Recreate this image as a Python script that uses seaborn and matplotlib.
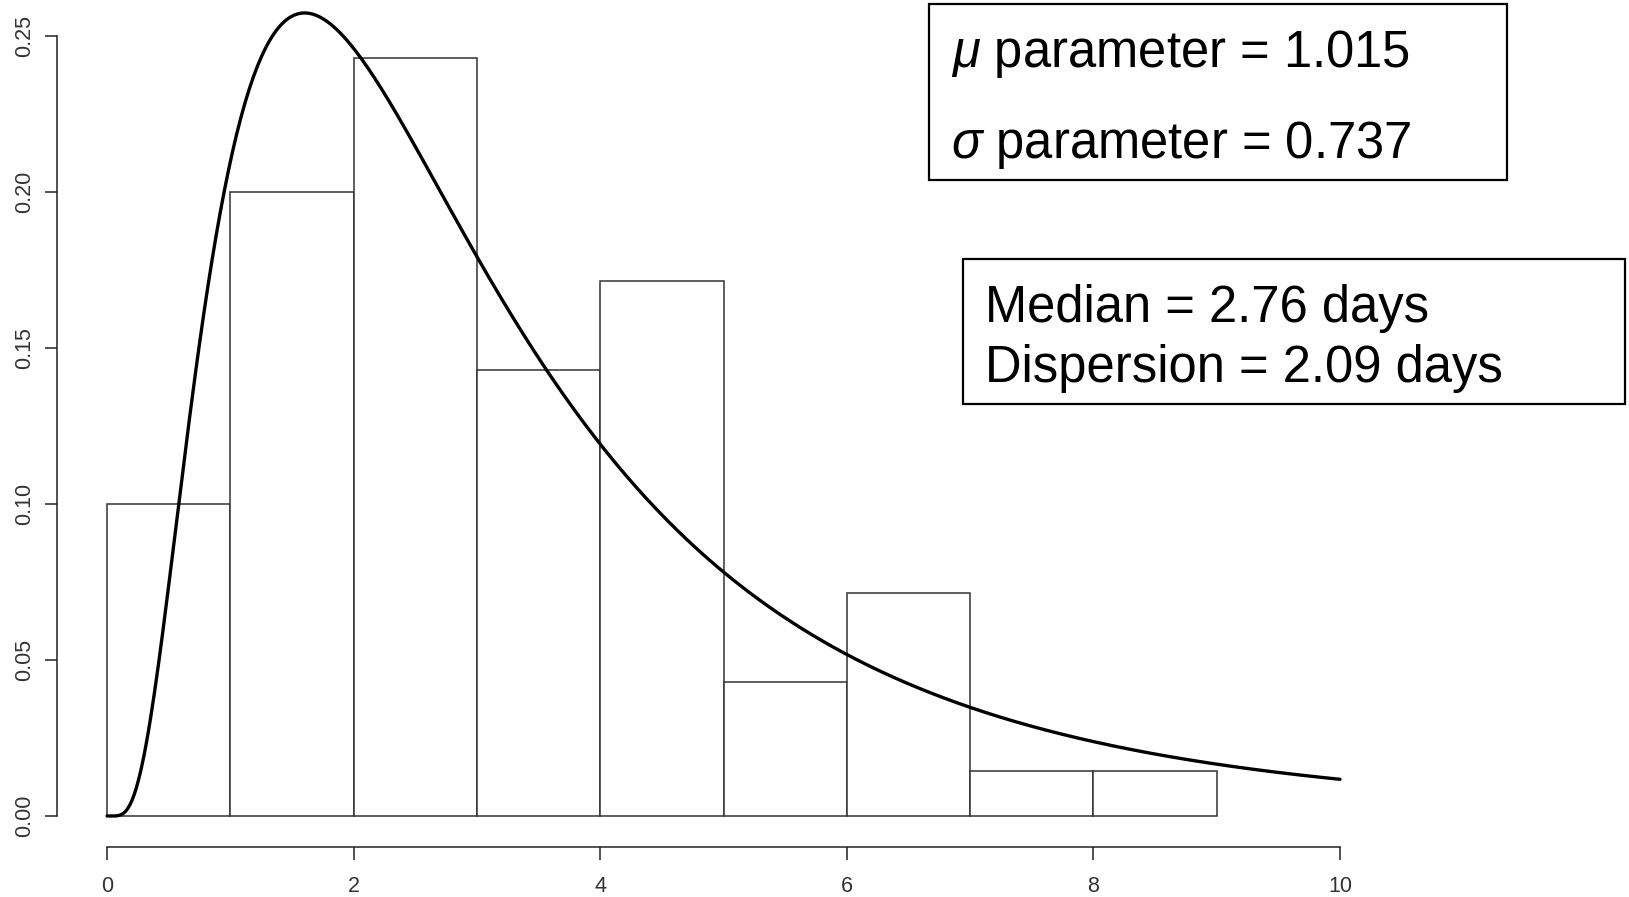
import numpy as np
import pandas as pd
import matplotlib
matplotlib.use("Agg")
import matplotlib.pyplot as plt
import seaborn as sns
from matplotlib.patches import Rectangle

# histogram: day bins and number of cases in each (n = 70)
bin_edges = [0, 1, 2, 3, 4, 5, 6, 7, 8, 9]
counts = [7, 14, 17, 10, 12, 3, 5, 1, 1]

# fitted lognormal parameters shown in the chart
mu = 1.015
sigma = 0.737
median_days = 2.76
dispersion_days = 2.09

x_ticks = [0, 2, 4, 6, 8, 10]
y_ticks = [0.00, 0.05, 0.10, 0.15, 0.20, 0.25]

sns.set_style("white")
plt.rcParams['font.family'] = ['Liberation Sans', 'DejaVu Sans']
plt.rcParams['mathtext.fontset'] = 'custom'
plt.rcParams['mathtext.it'] = 'Liberation Sans:italic'
plt.rcParams['mathtext.rm'] = 'Liberation Sans'

mids = [(a + b) / 2 for a, b in zip(bin_edges[:-1], bin_edges[1:])]
df = pd.DataFrame({"days": mids, "n": counts})

fig = plt.figure(figsize=(16.29, 8.97), dpi=100)
ax = fig.add_axes([0, 0, 1, 1])

sns.histplot(data=df, x="days", weights="n", bins=bin_edges, stat="density",
             color="white", edgecolor="#333333", linewidth=1.1, alpha=1, ax=ax)

xs = np.linspace(0.001, 10, 600)
pdf = np.exp(-(np.log(xs) - mu) ** 2 / (2 * sigma ** 2)) / (xs * sigma * np.sqrt(2 * np.pi))
sns.lineplot(x=xs, y=pdf, color="black", linewidth=2.4, ax=ax)

# pixel mapping of the reference: x=0 -> 107px, 123.3 px/unit; y=0 -> 816px, 3120 px/unit
ax.set_xlim(-107 / 123.3, (1629 - 107) / 123.3)
ax.set_ylim(-(897 - 816) / 3120, 816 / 3120)
ax.patch.set_alpha(0)

for s in ["top", "right"]:
    ax.spines[s].set_visible(False)
ax.spines["left"].set_position(("data", (57 - 107) / 123.3))
ax.spines["left"].set_bounds(0, 0.25)
ax.spines["bottom"].set_position(("data", -(847 - 816) / 3120))
ax.spines["bottom"].set_bounds(0, 10)
for s in ["left", "bottom"]:
    ax.spines[s].set_color("#222222")
    ax.spines[s].set_linewidth(1.1)

ax.set_xticks(x_ticks)
ax.set_xticklabels([str(t) for t in x_ticks])
ax.set_yticks(y_ticks)
ax.set_yticklabels([f"{t:.2f}" for t in y_ticks], rotation=90, va="center")
ax.tick_params(axis="both", direction="out", length=9, width=1.1, color="#222222",
               labelsize=15.5, labelcolor="#333333", left=True, bottom=True)
ax.tick_params(axis="y", pad=7)
ax.tick_params(axis="x", pad=12)
ax.set_xlabel("")
ax.set_ylabel("")
ax.grid(False)

# annotation boxes (figure fractions)
fig.patches.append(Rectangle((929 / 1629, 1 - 180 / 897), 578 / 1629, 176 / 897,
                             transform=fig.transFigure, fill=False,
                             edgecolor="black", linewidth=1.6))
fig.patches.append(Rectangle((963 / 1629, 1 - 404 / 897), 662 / 1629, 145 / 897,
                             transform=fig.transFigure, fill=False,
                             edgecolor="black", linewidth=1.6))

fs = 36.5
fig.text(951 / 1629, 1 - 67 / 897, rf"$\mu$ parameter = {mu:.3f}", fontsize=fs,
         va="baseline", color="black")
fig.text(951 / 1629, 1 - 158 / 897, rf"$\sigma$ parameter = {sigma:.3f}", fontsize=fs,
         va="baseline", color="black")
fig.text(985 / 1629, 1 - 322 / 897, f"Median = {median_days:.2f} days", fontsize=fs,
         va="baseline", color="black")
fig.text(985 / 1629, 1 - 382 / 897, f"Dispersion = {dispersion_days:.2f} days", fontsize=fs,
         va="baseline", color="black")

fig.savefig("out.png", dpi=100)
